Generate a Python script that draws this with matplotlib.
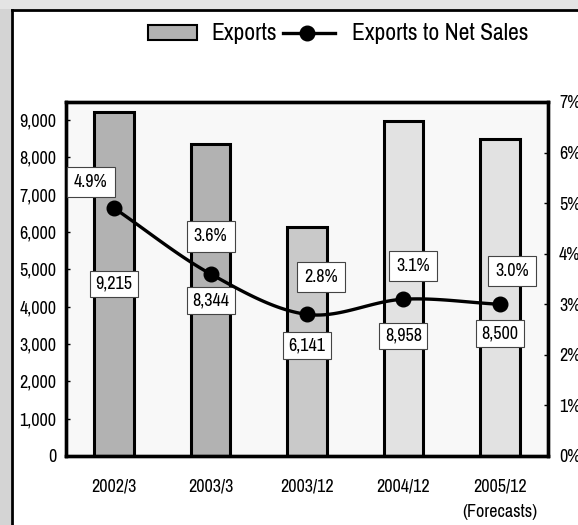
import numpy as np
import matplotlib
matplotlib.use("Agg")
import matplotlib.pyplot as plt
from matplotlib import font_manager
from matplotlib.patches import Rectangle
from matplotlib.lines import Line2D

categories = ["2002/3", "2003/3", "2003/12", "2004/12", "2005/12\n(Forecasts)"]
exports = [9215, 8344, 6141, 8958, 8500]
export_labels = ["9,215", "8,344", "6,141", "8,958", "8,500"]
ratio = [4.9, 3.6, 2.8, 3.1, 3.0]
ratio_labels = ["4.9%", "3.6%", "2.8%", "3.1%", "3.0%"]
left_ticks = [0, 1000, 2000, 3000, 4000, 5000, 6000, 7000, 8000, 9000]
left_tick_labels = ["0", "1,000", "2,000", "3,000", "4,000", "5,000", "6,000", "7,000", "8,000", "9,000"]
right_ticks = [0, 1, 2, 3, 4, 5, 6, 7]
right_tick_labels = ["0%", "1%", "2%", "3%", "4%", "5%", "6%", "7%"]

names = {f.name for f in font_manager.fontManager.ttflist}
fam = "Liberation Sans"
for cand in ["Liberation Sans Narrow", "Arial Narrow", "Archivo Narrow"]:
    if cand in names:
        fam = cand
        break
plt.rcParams["font.family"] = [fam, "DejaVu Sans"]

W, H = 578, 525
fig = plt.figure(figsize=(W / 100, H / 100), dpi=100)

def fx(px):
    return px / W

def fy(py):
    return 1 - py / H

# scanned page border
fig.add_artist(Rectangle((0, 0), fx(11), 1, transform=fig.transFigure,
                         facecolor="#d4d4d4", edgecolor="none", hatch="....", zorder=0))
fig.add_artist(Rectangle((0, fy(9)), 1, 9 / H, transform=fig.transFigure,
                         facecolor="#e4e4e4", edgecolor="none", hatch="....", zorder=0))
fig.add_artist(Line2D([fx(12), fx(12)], [0, fy(10)], transform=fig.transFigure, color="black", lw=2))
fig.add_artist(Line2D([fx(12), 1], [fy(10), fy(10)], transform=fig.transFigure, color="black", lw=2))

ax = fig.add_axes([fx(66), fy(456), fx(548) - fx(66), (456 - 102) / H])
ax.set_facecolor("#f8f8f8")
x = np.arange(len(categories))
bar_colors = ["#b2b2b2", "#b2b2b2", "#c9c9c9", "#e2e2e2", "#e2e2e2"]
ax.bar(x, exports, width=0.41, color=bar_colors, edgecolor="black", linewidth=2.2, zorder=2)
ax.set_xlim(-0.5, 4.5)
ax.set_ylim(0, 9480)
ax.set_yticks(left_ticks)
ax.set_yticklabels(left_tick_labels, fontsize=13)
ax.tick_params(axis="y", direction="in", length=3, pad=7, width=1)
ax.set_xticks(x)
ax.set_xticklabels(categories, fontsize=13, linespacing=1.75, va="top")
ax.tick_params(axis="x", length=0, pad=16)
for s in ax.spines.values():
    s.set_linewidth(2.4)

# value labels: middle of the bar, last two pushed below the line markers
label_shift = [0, 0, -3, -34, -26]
for i, (v, lab) in enumerate(zip(exports, export_labels)):
    ax.annotate(lab, (i, v / 2), xytext=(0, label_shift[i]), textcoords="offset points",
                ha="center", va="center", fontsize=13, zorder=4,
                bbox=dict(boxstyle="square,pad=0.3", facecolor="white", edgecolor="#444444", lw=0.8))

ax2 = ax.twinx()
ax2.set_ylim(0, 7)
ax2.set_yticks(right_ticks)
ax2.set_yticklabels(right_tick_labels, fontsize=13)
ax2.tick_params(axis="y", direction="in", length=3, pad=8, width=1)
for s in ax2.spines.values():
    s.set_linewidth(2.4)

# smoothed line (Catmull-Rom through the data points)
xs = np.asarray(x, dtype=float)
ys = np.asarray(ratio, dtype=float)
px = np.concatenate([[2 * xs[0] - xs[1]], xs, [2 * xs[-1] - xs[-2]]])
py = np.concatenate([[2 * ys[0] - ys[1]], ys, [2 * ys[-1] - ys[-2]]])
cx, cy = [], []
t = np.linspace(0, 1, 30)
for k in range(1, len(px) - 2):
    p0, p1, p2, p3 = py[k - 1], py[k], py[k + 1], py[k + 2]
    q0, q1, q2, q3 = px[k - 1], px[k], px[k + 1], px[k + 2]
    cy.append(0.5 * (2 * p1 + (-p0 + p2) * t + (2 * p0 - 5 * p1 + 4 * p2 - p3) * t ** 2 + (-p0 + 3 * p1 - 3 * p2 + p3) * t ** 3))
    cx.append(0.5 * (2 * q1 + (-q0 + q2) * t + (2 * q0 - 5 * q1 + 4 * q2 - q3) * t ** 2 + (-q0 + 3 * q1 - 3 * q2 + q3) * t ** 3))
ax2.plot(np.concatenate(cx), np.concatenate(cy), color="black", lw=2.4, zorder=3)
ax2.plot(x, ratio, "o", color="black", markersize=10.5, zorder=4)

offsets = [(-17, 19), (0, 27), (10, 27), (7, 24), (9, 24)]
for i, (r, lab) in enumerate(zip(ratio, ratio_labels)):
    ax2.annotate(lab, (i, r), xytext=offsets[i], textcoords="offset points",
                 ha="center", va="center", fontsize=13, zorder=5,
                 bbox=dict(boxstyle="square,pad=0.4", facecolor="white", edgecolor="#444444", lw=0.8))

# legend
fig.add_artist(Rectangle((fx(148), fy(40)), fx(197) - fx(148), 15 / H, transform=fig.transFigure,
                         facecolor="#b2b2b2", edgecolor="black", lw=1.5))
fig.text(fx(211), fy(33), "Exports", fontsize=17, va="center", ha="left")
fig.add_artist(Line2D([fx(283), fx(335)], [fy(33), fy(33)], transform=fig.transFigure, color="black", lw=2.4))
fig.add_artist(Line2D([fx(307)], [fy(33)], transform=fig.transFigure, marker="o", color="black", markersize=10.5))
fig.text(fx(352), fy(33), "Exports to Net Sales", fontsize=17, va="center", ha="left")

fig.savefig("out.png", dpi=100)
